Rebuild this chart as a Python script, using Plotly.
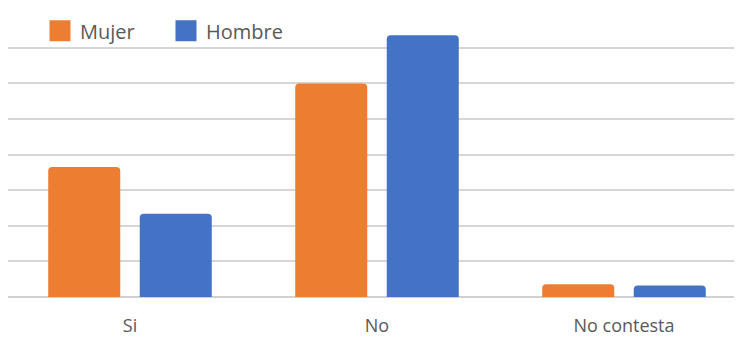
import plotly.graph_objects as go

categories = ["Si", "No", "No contesta"]
mujer = [36.5, 59.9, 3.6]
hombre = [23.4, 73.5, 3.2]
series_names = ["Mujer", "Hombre"]
colors = ["#ED7D31", "#4472C4"]

FONT = "Open Sans"
# The page body has an 8px margin; the figure is sized/placed to compensate.
OFF = 8
W, H = 742 - OFF, 339
L, R, T = 0, 0, 4
PLOT_H = 285
B = H - T - PLOT_H

fig = go.Figure()
for name, vals, col in zip(series_names, [mujer, hombre], colors):
    fig.add_trace(go.Bar(
        x=categories, y=vals, name=name, showlegend=False,
        marker=dict(color=col, cornerradius=4, line=dict(width=0)),
        hoverinfo="x+y+name",
    ))
# legend-only entries (larger square icons)
for name, col in zip(series_names, colors):
    fig.add_trace(go.Scatter(
        x=[None], y=[None], mode="markers", name=name,
        marker=dict(symbol="square", size=16, color=col,
                    line=dict(color=col, width=5)),
    ))

cat_px = 247.0
plot_w = W - L - R
x_min = -(130 - OFF - L) / cat_px
x_max = x_min + plot_w / cat_px

fig.update_layout(
    width=W, height=H,
    margin=dict(l=L, r=R, t=T, b=B, pad=0, autoexpand=False),
    paper_bgcolor="white", plot_bgcolor="white",
    barmode="group", bargap=0.259, bargroupgap=0.213,
    font=dict(family=FONT, size=18, color="#595959"),
    showlegend=True,
    legend=dict(
        orientation="h", x=(32 - L) / plot_w, xanchor="left",
        y=1 + 0.7 / PLOT_H, yanchor="top", bgcolor="rgba(0,0,0,0)",
        font=dict(family=FONT, size=20, color="#595959"),
        entrywidth=81, itemclick=False,
        traceorder="normal",
    ),
    xaxis=dict(
        range=[x_min, x_max], showgrid=False, showline=False, ticks="",
        zeroline=False, ticklabelstandoff=16, automargin=False,
        tickfont=dict(family=FONT, size=18, color="#595959"),
        fixedrange=True,
    ),
    yaxis=dict(
        range=[0, 80], dtick=10, showticklabels=False, ticks="",
        showgrid=True, gridcolor="#d6d6d6", gridwidth=1.5,
        zeroline=True, zerolinecolor="#d0d0d0", zerolinewidth=1.5,
        showline=False, fixedrange=True, automargin=False,
    ),
)

fig.write_html("out.html")
